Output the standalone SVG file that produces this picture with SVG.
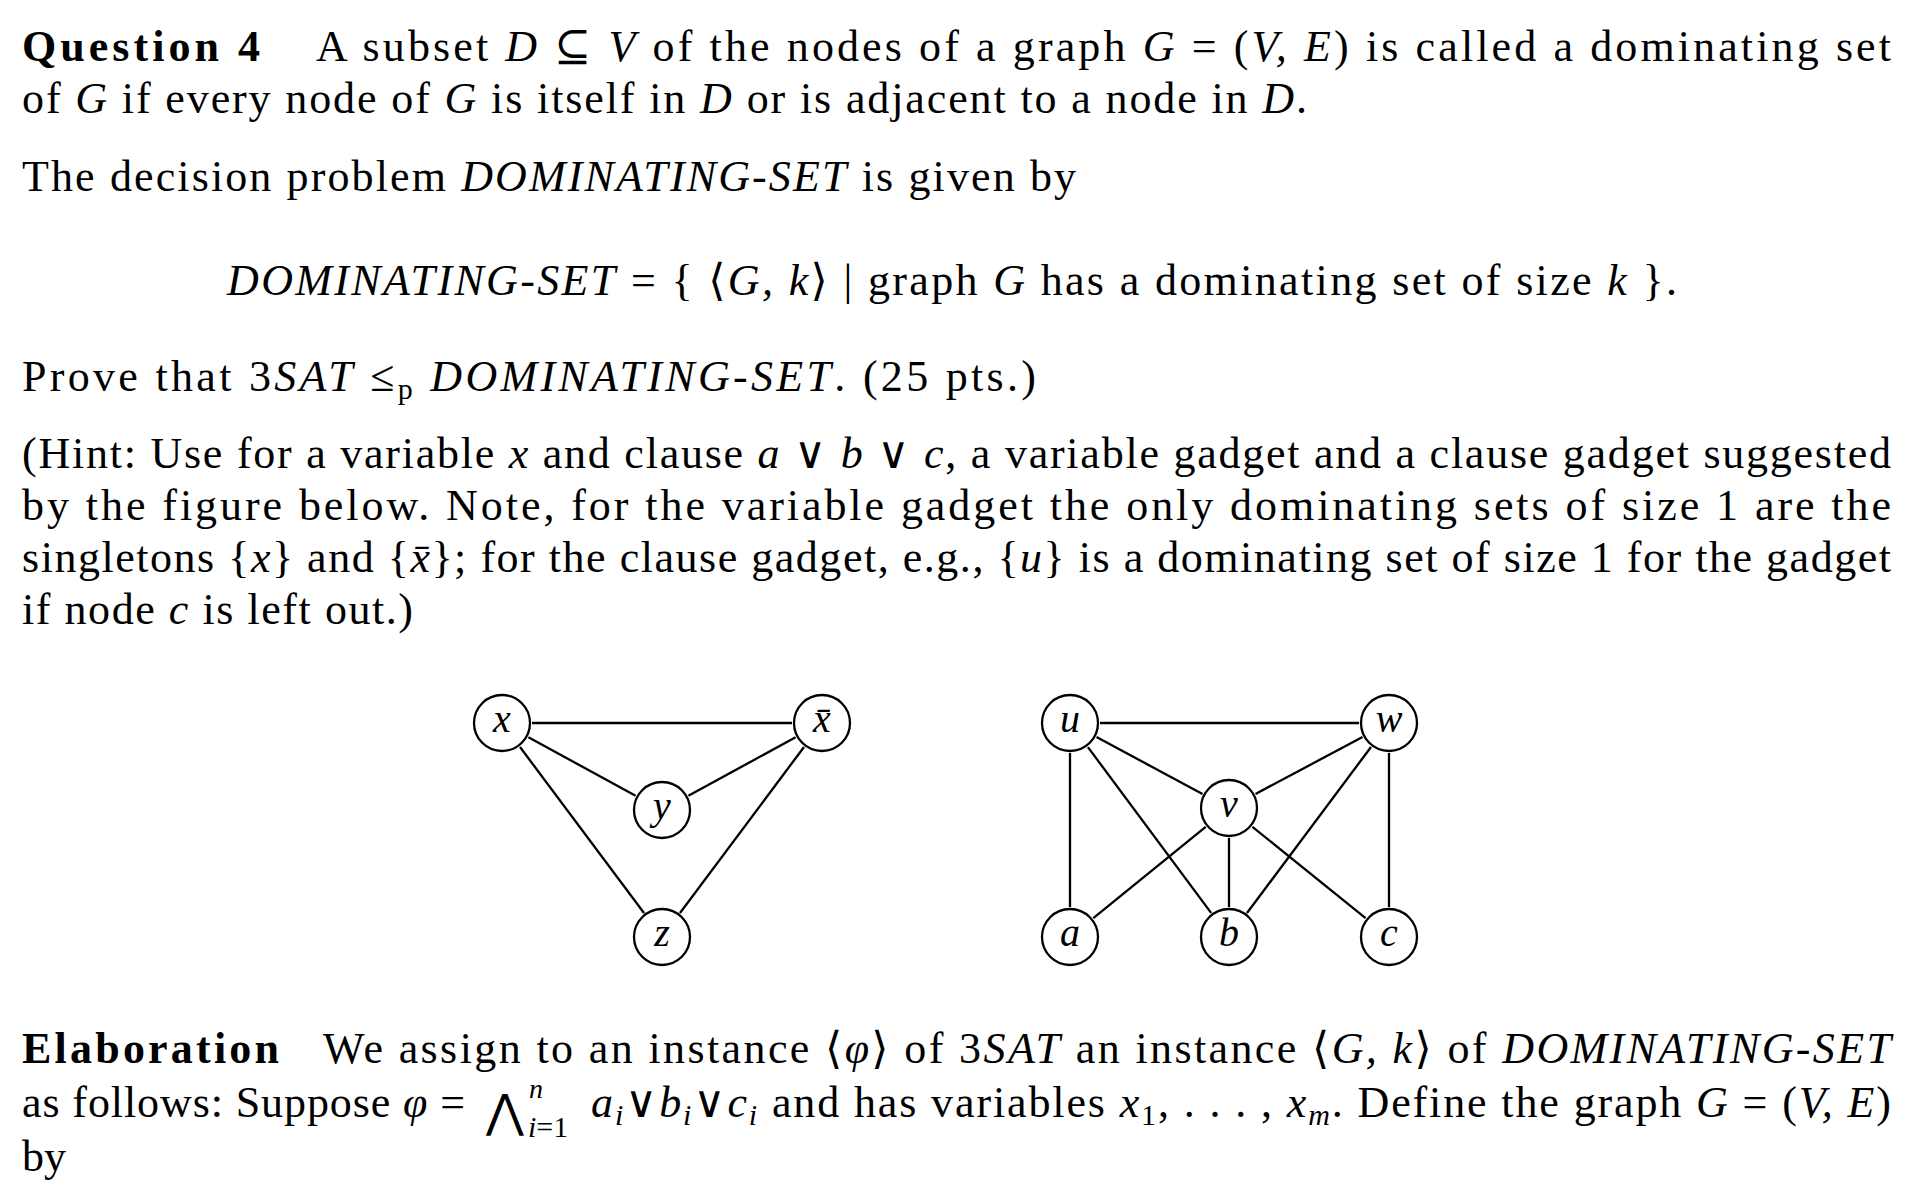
<svg xmlns="http://www.w3.org/2000/svg" width="1913" height="1195" viewBox="0 0 1913 1195">
<style>
.t{font-family:"Liberation Serif","DejaVu Serif",serif;font-size:44px;fill:#000}
.i{font-style:italic}
.b{font-weight:bold}
.s{font-size:30px}
.n{fill:#fff;stroke:#000;stroke-width:2.3}
.e{stroke:#000;stroke-width:2.3;fill:none}
.lbl{font-family:"Liberation Serif","DejaVu Serif",serif;font-style:italic;font-size:40px;text-anchor:middle;fill:#000}
</style>
<rect x="0" y="0" width="1913" height="1195" fill="#fff"/>
<g id="text">
<text class="t b" x="22" y="61" textLength="238">Question 4</text>
<text class="t" x="316" y="61" textLength="1575">A subset <tspan class="i">D</tspan> ⊆ <tspan class="i">V</tspan> of the nodes of a graph <tspan class="i">G</tspan> = (<tspan class="i">V, E</tspan>) is called a dominating set</text>
<text class="t" x="22" y="113" textLength="1285">of <tspan class="i">G</tspan> if every node of <tspan class="i">G</tspan> is itself in <tspan class="i">D</tspan> or is adjacent to a node in <tspan class="i">D</tspan>.</text>
<text class="t" x="22" y="191" textLength="1054">The decision problem <tspan class="i">DOMINATING-SET</tspan> is given by</text>
<text class="t" x="227" y="295" textLength="1450"><tspan class="i">DOMINATING-SET</tspan> = { ⟨<tspan class="i">G, k</tspan>⟩ | graph <tspan class="i">G</tspan> has a dominating set of size <tspan class="i">k</tspan> }.</text>
<text class="t" x="22" y="391" textLength="1014">Prove that 3<tspan class="i">SAT</tspan> ≤<tspan class="s" dy="8">p</tspan> <tspan class="i" dy="-8">DOMINATING-SET</tspan>. (25 pts.)</text>
<text class="t" x="22" y="468" textLength="1869">(Hint: Use for a variable <tspan class="i">x</tspan> and clause <tspan class="i">a</tspan> ∨ <tspan class="i">b</tspan> ∨ <tspan class="i">c</tspan>, a variable gadget and a clause gadget suggested</text>
<text class="t" x="22" y="520" textLength="1869">by the figure below. Note, for the variable gadget the only dominating sets of size 1 are the</text>
<text class="t" x="22" y="572" textLength="1869">singletons {<tspan class="i">x</tspan>} and {<tspan class="i">x̄</tspan>}; for the clause gadget, e.g., {<tspan class="i">u</tspan>} is a dominating set of size 1 for the gadget</text>
<text class="t" x="22" y="624" textLength="391">if node <tspan class="i">c</tspan> is left out.)</text>
<text class="t b" x="22" y="1063" textLength="257">Elaboration</text>
<text class="t" x="323" y="1063" textLength="1568">We assign to an instance ⟨<tspan class="i">φ</tspan>⟩ of 3<tspan class="i">SAT</tspan> an instance ⟨<tspan class="i">G, k</tspan>⟩ of <tspan class="i">DOMINATING-SET</tspan></text>
<text class="t" x="22" y="1117" textLength="443">as follows: Suppose <tspan class="i">φ</tspan> =</text>
<text class="t" x="486" y="1127" style="font-family:'DejaVu Sans',sans-serif;font-size:46px">⋀</text>
<text class="t i" x="529" y="1098" style="font-size:28px">n</text>
<text class="t s" x="528" y="1137"><tspan class="i">i</tspan>=1</text>
<text class="t" x="591" y="1117" textLength="1300"><tspan class="i">a</tspan><tspan class="s i" dy="8">i</tspan><tspan dy="-8">∨</tspan><tspan class="i">b</tspan><tspan class="s i" dy="8">i</tspan><tspan dy="-8">∨</tspan><tspan class="i">c</tspan><tspan class="s i" dy="8">i</tspan><tspan dy="-8"> and has variables </tspan><tspan class="i">x</tspan><tspan class="s" dy="8">1</tspan><tspan dy="-8">, . . . , </tspan><tspan class="i">x</tspan><tspan class="s i" dy="8">m</tspan><tspan dy="-8">. Define the graph </tspan><tspan class="i">G</tspan> = (<tspan class="i">V, E</tspan>)</text>
<text class="t" x="22" y="1171">by</text>
</g>
<g id="connectors">
<line class="e" x1="532" y1="723" x2="792" y2="723"/>
<line class="e" x1="528.4" y1="737.3" x2="635.6" y2="795.7"/>
<line class="e" x1="795.6" y1="737.3" x2="688.4" y2="795.7"/>
<line class="e" x1="520" y1="747" x2="644" y2="913"/>
<line class="e" x1="804" y1="747" x2="680" y2="913"/>
<line class="e" x1="1100" y1="723" x2="1359" y2="723"/>
<line class="e" x1="1096.5" y1="737.1" x2="1202.5" y2="793.9"/>
<line class="e" x1="1362.5" y1="737.1" x2="1255.5" y2="793.9"/>
<line class="e" x1="1070" y1="753" x2="1070" y2="907"/>
<line class="e" x1="1389" y1="753" x2="1389" y2="907"/>
<line class="e" x1="1087.9" y1="747.1" x2="1211.1" y2="912.9"/>
<line class="e" x1="1371" y1="747" x2="1247" y2="913"/>
<line class="e" x1="1205.7" y1="826.9" x2="1093.3" y2="918.1"/>
<line class="e" x1="1252.4" y1="826.8" x2="1365.6" y2="918.2"/>
<line class="e" x1="1229" y1="838" x2="1229" y2="907"/>
</g>
<g id="node-x"><circle class="n" cx="502" cy="723" r="28"/><text class="lbl" x="502" y="732">x</text></g>
<g id="node-xbar"><circle class="n" cx="822" cy="723" r="28"/><text class="lbl" x="822" y="732">x̄</text></g>
<g id="node-y"><circle class="n" cx="662" cy="810" r="28"/><text class="lbl" x="662" y="819">y</text></g>
<g id="node-z"><circle class="n" cx="662" cy="937" r="28"/><text class="lbl" x="662" y="946">z</text></g>
<g id="node-u"><circle class="n" cx="1070" cy="723" r="28"/><text class="lbl" x="1070" y="732">u</text></g>
<g id="node-w"><circle class="n" cx="1389" cy="723" r="28"/><text class="lbl" x="1389" y="732">w</text></g>
<g id="node-v"><circle class="n" cx="1229" cy="808" r="28"/><text class="lbl" x="1229" y="817">v</text></g>
<g id="node-a"><circle class="n" cx="1070" cy="937" r="28"/><text class="lbl" x="1070" y="946">a</text></g>
<g id="node-b"><circle class="n" cx="1229" cy="937" r="28"/><text class="lbl" x="1229" y="946">b</text></g>
<g id="node-c"><circle class="n" cx="1389" cy="937" r="28"/><text class="lbl" x="1389" y="946">c</text></g>
</svg>
